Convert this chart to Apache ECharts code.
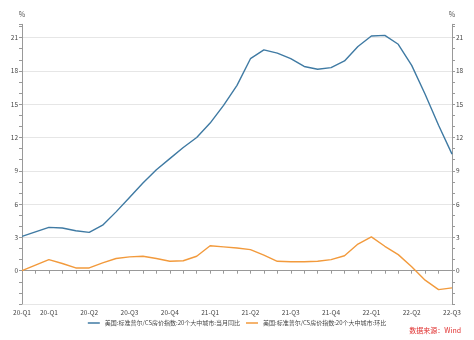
<!DOCTYPE html>
<html>
<head>
<meta charset="utf-8">
<script src="https://cdn.jsdelivr.net/npm/echarts@6/dist/echarts.min.js"></script>
<style>html,body{margin:0;padding:0;background:#fff}#c{width:474px;height:340px}</style>
</head>
<body>
<div id="c"></div>
<script>
// Monthly categories Jan 2020 - Sep 2022, labelled by quarter
const categories = [
  "20-Q1","20-Q1","20-Q1","20-Q2","20-Q2","20-Q2","20-Q3","20-Q3","20-Q3","20-Q4","20-Q4","20-Q4",
  "21-Q1","21-Q1","21-Q1","21-Q2","21-Q2","21-Q2","21-Q3","21-Q3","21-Q3","21-Q4","21-Q4","21-Q4",
  "22-Q1","22-Q1","22-Q1","22-Q2","22-Q2","22-Q2","22-Q3","22-Q3","22-Q3"
];
// indices of months whose label is displayed
const labelIndices = [0,2,5,8,11,14,17,20,23,26,29,32];
const seriesNames = [
  "美国:标准普尔/CS房价指数:20个大中城市:当月同比",
  "美国:标准普尔/CS房价指数:20个大中城市:环比"
];
const yoy = [3.1,3.5,3.9,3.85,3.6,3.45,4.1,5.3,6.6,7.9,9.1,10.1,
             11.1,12.0,13.3,14.9,16.7,19.1,19.9,19.6,19.1,18.4,18.15,18.3,
             18.9,20.2,21.15,21.2,20.4,18.5,15.9,13.1,10.5];
const mom = [0.0,0.5,1.0,0.65,0.25,0.25,0.7,1.1,1.25,1.3,1.1,0.85,
             0.9,1.3,2.25,2.15,2.05,1.9,1.4,0.85,0.8,0.8,0.85,1.0,
             1.35,2.4,3.05,2.2,1.45,0.35,-0.85,-1.7,-1.55];
const yTickStep = 3;
const yMin = -3, yMax = 22.2;
const sourceText = "数据来源：Wind";

const FONT = '"Noto Sans CJK SC","Noto Sans",sans-serif';
const chart = echarts.init(document.getElementById('c'), null, {renderer:'canvas'});
function yAxisCfg(pos){
  return {
    type:'value', position:pos, min:yMin, max:yMax, interval:1,
    name:'%', nameLocation:'end', nameGap:6,
    nameTextStyle:{color:'#555', fontSize:7, fontFamily:FONT, align:'center', padding:[0,0,0,0]},
    axisLine:{show:true, lineStyle:{color:'#999', width:1}},
    axisTick:{show:true, length:3, lineStyle:{color:'#999'}},
    axisLabel:{
      color:'#444', fontSize:6.5, fontFamily:FONT, margin:4,
      formatter:function(v){ return (v>=0 && Math.abs(v % yTickStep) < 1e-9) ? String(v) : ''; }
    },
    splitLine:{show: pos==='left', lineStyle:{color:['#e6e6e6','rgba(0,0,0,0)','rgba(0,0,0,0)'], width:1}}
  };
}
chart.setOption({
  animation:false,
  grid:{left:22, right:22, top:24.3, bottom:36, containLabel:false},
  legend:{
    bottom:9, left:'center', icon:'rect', itemWidth:12, itemHeight:1.5, itemGap:6,
    textStyle:{color:'#444', fontSize:6, fontFamily:FONT},
    data:seriesNames
  },
  xAxis:{
    type:'category', data:categories, boundaryGap:false,
    axisLine:{lineStyle:{color:'#999', width:1}},
    axisTick:{show:true, interval:0, length:3, lineStyle:{color:'#999'}},
    axisLabel:{
      color:'#444', fontSize:6.5, fontFamily:FONT, margin:5, showMaxLabel:true,
      interval:function(i){ return labelIndices.indexOf(i) >= 0; }
    },
    splitLine:{show:false}
  },
  yAxis:[yAxisCfg('left'), yAxisCfg('right')],
  series:[
    {name:seriesNames[0], type:'line', data:yoy, symbol:'none', yAxisIndex:0,
     lineStyle:{color:'#3f7aa3', width:1.4}, itemStyle:{color:'#3f7aa3'}},
    {name:seriesNames[1], type:'line', data:mom, symbol:'none', yAxisIndex:0,
     lineStyle:{color:'#f29a3c', width:1.4}, itemStyle:{color:'#f29a3c'}}
  ],
  graphic:[{
    type:'text', right:13, top:327,
    style:{text:sourceText, fill:'#e0302f', fontSize:7, fontFamily:FONT}
  }]
});
</script>
</body>
</html>
